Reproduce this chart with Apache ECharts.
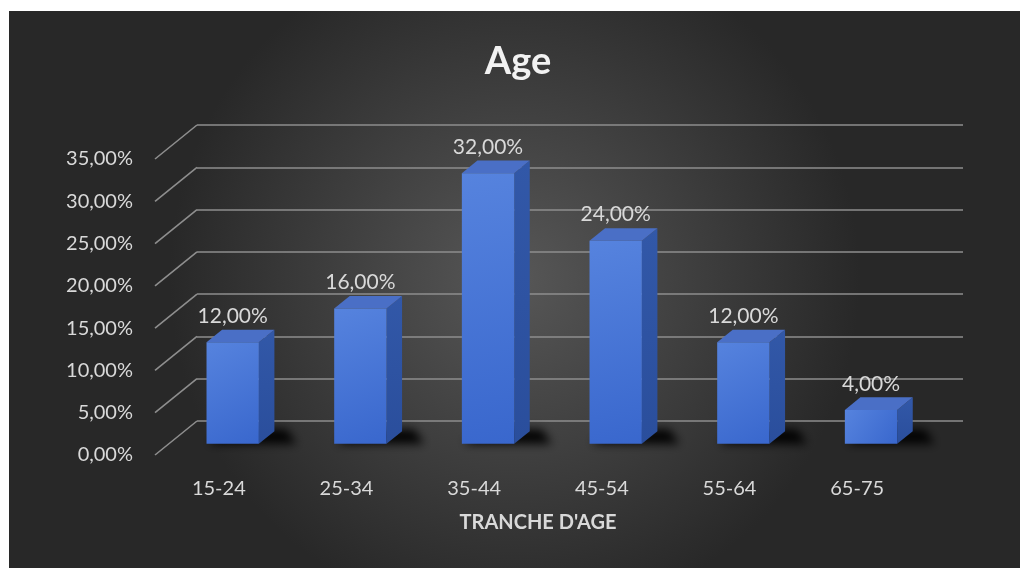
<!DOCTYPE html>
<html>
<head>
<meta charset="utf-8">
<script src="https://cdn.jsdelivr.net/npm/echarts@6/dist/echarts.min.js"></script>
<style>
  html, body { margin: 0; padding: 0; background: #ffffff; }
  #chart { width: 1020px; height: 568px; }
</style>
</head>
<body>
<div id="chart"></div>
<script>
// Age brackets and their share of respondents (percent)
const categories = ['15-24', '25-34', '35-44', '45-54', '55-64', '65-75'];
const shares = [12, 16, 32, 24, 12, 4];
const yTicks = [0, 5, 10, 15, 20, 25, 30, 35];

const titleText = 'Age';
const axisName = "TRANCHE D'AGE";

// 3D projection: vector from the back wall to the front edge of the floor
const DEPTH = [-42, 34];
const FRONT_F = 0.67;   // bar front face position along the depth
const BACK_F = 0.30;    // bar back face position along the depth
const SHADOW_SHIFT = 3000; // shadow-only shapes are drawn off canvas and cast back in

const fmt = v => v.toFixed(2).replace('.', ',') + '%';
const FONT = 'Lato, "Open Sans", sans-serif';
const TXT = '#d9d9d9';

const chart = echarts.init(document.getElementById('chart'));

function renderBar(params, api) {
  const i = api.value(0), v = api.value(1);
  const top = api.coord([i, v]);
  const base = api.coord([i, 0]);
  const band = api.size([1, 0])[0];
  const w = band * 0.41;
  const fx = DEPTH[0] * FRONT_F, fy = DEPTH[1] * FRONT_F;
  const dx = DEPTH[0] * (BACK_F - FRONT_F), dy = DEPTH[1] * (BACK_F - FRONT_F);
  const x0 = top[0] + fx - w / 2, x1 = x0 + w;
  const yT = top[1] + fy, yB = base[1] + fy;
  const s = SHADOW_SHIFT;
  return {
    type: 'group',
    children: [
      { // soft floor shadow cast towards the back right
        type: 'polygon',
        shape: { points: [
          [x0 + 2 - s, yB], [x1 + dx + 22 - s, yB],
          [x1 + dx + 12 - s, yB + dy - 2], [x0 + dx + 4 - s, yB + dy - 2]] },
        style: { fill: '#000', shadowBlur: 10, shadowColor: 'rgba(0,0,0,0.95)', shadowOffsetX: s, shadowOffsetY: 0 },
        z2: 1
      },
      { // right side face
        type: 'polygon',
        shape: { points: [[x1, yT], [x1 + dx, yT + dy], [x1 + dx, yB + dy], [x1, yB]] },
        style: { fill: new echarts.graphic.LinearGradient(0, 0, 0, 1, [
          { offset: 0, color: '#3258a8' }, { offset: 1, color: '#2a4e9c' }]) },
        z2: 2
      },
      { // top face
        type: 'polygon',
        shape: { points: [[x0, yT], [x0 + dx, yT + dy], [x1 + dx, yT + dy], [x1, yT]] },
        style: { fill: '#4a6fc6' },
        z2: 3
      },
      { // front face
        type: 'rect',
        shape: { x: x0, y: yT, width: w, height: yB - yT },
        style: { fill: new echarts.graphic.LinearGradient(0, 0, 1, 1, [
          { offset: 0, color: '#5683de' }, { offset: 1, color: '#3967cd' }]) },
        z2: 4
      },
      { // value label
        type: 'text',
        style: {
          text: fmt(v), x: x0 + w / 2, y: yT + dy - 3,
          align: 'center', verticalAlign: 'bottom',
          fill: TXT, font: '21px ' + FONT
        },
        z2: 5
      }
    ]
  };
}

function renderConnector(params, api) {
  const v = api.value(1);
  const p = api.coord([0, v]);
  const x = params.coordSys.x;
  return {
    type: 'line',
    shape: { x1: x, y1: p[1], x2: x + DEPTH[0], y2: p[1] + DEPTH[1] },
    style: { stroke: '#8e8e8e', lineWidth: 1.6 }
  };
}

const backGrid = { left: 197, right: 57, top: 125, height: 296 };
const frontGrid = { left: 197 + DEPTH[0], right: 57 - DEPTH[0], top: 125 + DEPTH[1], height: 296 };

chart.setOption({
  backgroundColor: '#ffffff',
  animation: false,
  graphic: [
    {
      type: 'rect', z: -10, silent: true,
      shape: { x: 9, y: 11, width: 1011, height: 557 },
      style: { fill: new echarts.graphic.RadialGradient(0.5, 0.48, 0.62, [
        { offset: 0, color: '#575757' }, { offset: 1, color: '#282828' }]) }
    },
    {
      type: 'text', z: 10,
      style: {
        text: titleText, x: 518, y: 62, align: 'center', verticalAlign: 'middle',
        fill: '#f2f2f2', font: 'bold 38px ' + FONT,
        shadowBlur: 4, shadowColor: 'rgba(0,0,0,0.6)', shadowOffsetX: 1, shadowOffsetY: 2
      }
    }
  ],
  grid: [
    Object.assign({ containLabel: false }, backGrid),
    Object.assign({ containLabel: false }, frontGrid)
  ],
  xAxis: [
    { type: 'category', gridIndex: 0, data: categories, show: false },
    {
      type: 'category', gridIndex: 1, data: categories,
      axisLine: { show: false }, axisTick: { show: false },
      axisLabel: { color: TXT, fontSize: 20, fontFamily: FONT, margin: 24 },
      name: axisName, nameLocation: 'middle', nameGap: 58,
      nameTextStyle: { color: TXT, fontSize: 20, fontWeight: 'bold', fontFamily: FONT }
    }
  ],
  yAxis: [
    {
      type: 'value', gridIndex: 0, min: 0, max: 35, interval: 5,
      axisLine: { show: false }, axisTick: { show: false }, axisLabel: { show: false },
      splitLine: { lineStyle: { color: '#8e8e8e', width: 1.6 } }
    },
    {
      type: 'value', gridIndex: 1, min: 0, max: 35, interval: 5,
      axisLine: { show: false }, axisTick: { show: false }, splitLine: { show: false },
      axisLabel: { color: TXT, fontSize: 20, fontFamily: FONT, margin: 22, formatter: fmt }
    }
  ],
  series: [
    {
      type: 'custom', xAxisIndex: 0, yAxisIndex: 0, silent: true, z: 1,
      renderItem: renderConnector,
      data: yTicks.map(v => [0, v]),
      clip: false
    },
    {
      type: 'custom', xAxisIndex: 0, yAxisIndex: 0, z: 3,
      renderItem: renderBar,
      data: shares.map((v, i) => [i, v]),
      clip: false
    }
  ]
});
</script>
</body>
</html>
